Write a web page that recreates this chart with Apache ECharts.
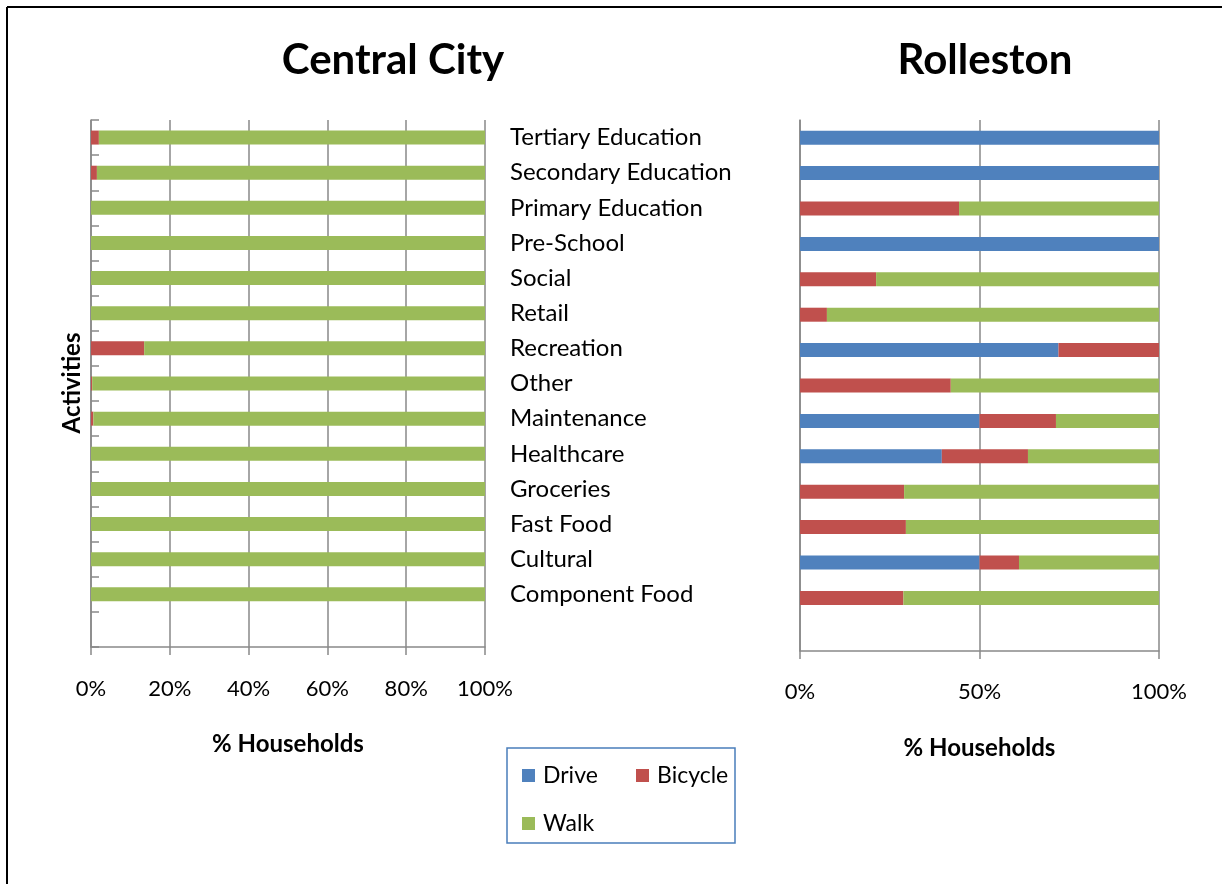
<!DOCTYPE html>
<html>
<head>
<meta charset="utf-8">
<script src="https://cdn.jsdelivr.net/npm/echarts@6/dist/echarts.min.js"></script>
<style>
html,body{margin:0;padding:0;background:#fff;}
#chart{width:1228px;height:884px;}
</style>
</head>
<body>
<div id="chart"></div>
<script>
// Categories bottom to top (first slot is an empty category)
const categories = ['', 'Component Food', 'Cultural', 'Fast Food', 'Groceries', 'Healthcare', 'Maintenance', 'Other', 'Recreation', 'Retail', 'Social', 'Pre-School', 'Primary Education', 'Secondary Education', 'Tertiary Education'];

// Central City (% households)
const ccDrive   = [null, 0, 0, 0, 0, 0, 0, 0, 0, 0, 0, 0, 0, 0, 0];
const ccBicycle = [null, 0, 0, 0, 0, 0, 0.6, 0.3, 13.5, 0, 0, 0, 0, 1.5, 2];
const ccWalk    = [null, 100, 100, 100, 100, 100, 99.4, 99.7, 86.5, 100, 100, 100, 100, 98.5, 98];

// Rolleston (% households)
const roDrive   = [null, 0, 50, 0, 0, 39.5, 50, 0, 72, 0, 0, 100, 0, 100, 100];
const roBicycle = [null, 28.8, 11, 29.5, 29, 24, 21.3, 42, 28, 7.5, 21.2, 0, 44.3, 0, 0];
const roWalk    = [null, 71.2, 39, 70.5, 71, 36.5, 28.7, 58, 0, 92.5, 78.8, 0, 55.7, 0, 0];

const FONT = 'Lato';
const GREY = '#898989';
const COLORS = {Drive: '#4F81BD', Bicycle: '#C0504D', Walk: '#9BBB59'};

const chart = echarts.init(document.getElementById('chart'));

function xAxisCfg(gridIndex, interval, labelMargin) {
  return {
    type: 'value', gridIndex: gridIndex, min: 0, max: 100, interval: interval,
    name: '% Households', nameLocation: 'middle', nameGap: 85,
    nameTextStyle: {fontFamily: FONT, fontWeight: 'bold', fontSize: 24, color: '#000'},
    axisLine: {show: true, lineStyle: {color: GREY, width: 1.5}},
    axisTick: {show: true, length: 8, lineStyle: {color: GREY, width: 1.5}},
    axisLabel: {formatter: '{value}%', margin: labelMargin, fontFamily: FONT, fontSize: 22, color: '#000'},
    splitLine: {show: true, lineStyle: {color: GREY, width: 1.5}}
  };
}

function bar(name, data, xi, yi) {
  return {
    name: name, type: 'bar', stack: 'g' + xi, data: data,
    xAxisIndex: xi, yAxisIndex: yi, barWidth: 14,
    itemStyle: {color: COLORS[name]}, emphasis: {disabled: true}
  };
}

const legendCommon = {
  orient: 'horizontal', padding: 0, itemWidth: 13, itemHeight: 13, icon: 'rect',
  selectedMode: false,
  textStyle: {fontFamily: FONT, fontSize: 23, color: '#000', padding: [0, 0, 0, 3]}
};

chart.setOption({
  animation: false,
  grid: [
    {left: 91, top: 120, width: 394, height: 527},
    {left: 800, top: 120, width: 359, height: 531}
  ],
  xAxis: [xAxisCfg(0, 20, 31), xAxisCfg(1, 50, 30)],
  yAxis: [
    {
      type: 'category', gridIndex: 0, data: categories, position: 'right',
      axisLine: {show: true, lineStyle: {color: GREY, width: 1.5}},
      axisTick: {show: true, length: 8, lineStyle: {color: GREY, width: 1.5}},
      axisLabel: {margin: 25, fontFamily: FONT, fontSize: 24, color: '#000'},
      splitLine: {show: false}
    },
    {
      type: 'category', gridIndex: 1, data: categories, position: 'left',
      axisLine: {show: true, lineStyle: {color: GREY, width: 1.5}},
      axisTick: {show: false},
      axisLabel: {show: false},
      splitLine: {show: false}
    }
  ],
  legend: [
    Object.assign({}, legendCommon, {data: ['Drive'], left: 522, top: 764}),
    Object.assign({}, legendCommon, {data: ['Bicycle'], left: 636, top: 764}),
    Object.assign({}, legendCommon, {data: ['Walk'], left: 522, top: 812})
  ],
  series: [
    bar('Drive', ccDrive, 0, 0),
    bar('Bicycle', ccBicycle, 0, 0),
    bar('Walk', ccWalk, 0, 0),
    bar('Drive', roDrive, 1, 1),
    bar('Bicycle', roBicycle, 1, 1),
    bar('Walk', roWalk, 1, 1)
  ],
  graphic: [
    {type: 'line', shape: {x1: 7, y1: 7, x2: 1222, y2: 7}, style: {stroke: '#000', lineWidth: 2}},
    {type: 'line', shape: {x1: 7, y1: 7, x2: 7, y2: 884}, style: {stroke: '#000', lineWidth: 2}},
    {type: 'rect', shape: {x: 507, y: 748, width: 228, height: 95}, style: {fill: 'none', stroke: '#4A7EBB', lineWidth: 1.5}},
    {type: 'text', x: 393, y: 60, style: {text: 'Central City', fontFamily: FONT, fontWeight: 'bold', fontSize: 42, fill: '#000', textAlign: 'center', textVerticalAlign: 'middle'}},
    {type: 'text', x: 985, y: 60, style: {text: 'Rolleston', fontFamily: FONT, fontWeight: 'bold', fontSize: 42, fill: '#000', textAlign: 'center', textVerticalAlign: 'middle'}},
    {type: 'text', x: 72, y: 383, rotation: Math.PI / 2, style: {text: 'Activities', fontFamily: FONT, fontWeight: 'bold', fontSize: 24, fill: '#000', textAlign: 'center', textVerticalAlign: 'middle'}}
  ]
});
</script>
</body>
</html>
